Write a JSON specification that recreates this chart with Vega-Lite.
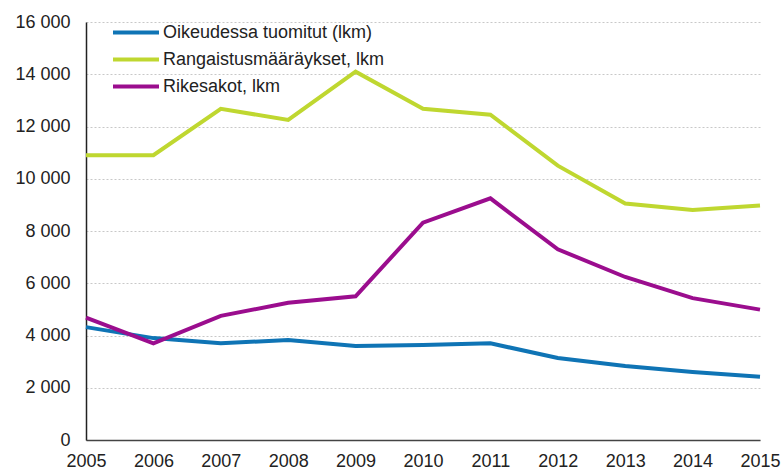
{
  "$schema": "https://vega.github.io/schema/vega-lite/v6.json",
  "width": 674,
  "height": 418,
  "autosize": {"type": "none"},
  "padding": {"left": 86, "top": 22, "right": 24, "bottom": 30},
  "background": "white",
  "config": {
    "font": "Liberation Sans",
    "view": {"stroke": null}
  },
  "data": {
    "values": [
      {"year": 2005, "series": "Oikeudessa tuomitut (lkm)", "value": 4320},
      {"year": 2006, "series": "Oikeudessa tuomitut (lkm)", "value": 3900},
      {"year": 2007, "series": "Oikeudessa tuomitut (lkm)", "value": 3700},
      {"year": 2008, "series": "Oikeudessa tuomitut (lkm)", "value": 3830},
      {"year": 2009, "series": "Oikeudessa tuomitut (lkm)", "value": 3600},
      {"year": 2010, "series": "Oikeudessa tuomitut (lkm)", "value": 3640},
      {"year": 2011, "series": "Oikeudessa tuomitut (lkm)", "value": 3700},
      {"year": 2012, "series": "Oikeudessa tuomitut (lkm)", "value": 3140},
      {"year": 2013, "series": "Oikeudessa tuomitut (lkm)", "value": 2830},
      {"year": 2014, "series": "Oikeudessa tuomitut (lkm)", "value": 2600},
      {"year": 2015, "series": "Oikeudessa tuomitut (lkm)", "value": 2420},
      {"year": 2005, "series": "Rangaistusmääräykset, lkm", "value": 10900},
      {"year": 2006, "series": "Rangaistusmääräykset, lkm", "value": 10900},
      {"year": 2007, "series": "Rangaistusmääräykset, lkm", "value": 12680},
      {"year": 2008, "series": "Rangaistusmääräykset, lkm", "value": 12250},
      {"year": 2009, "series": "Rangaistusmääräykset, lkm", "value": 14100},
      {"year": 2010, "series": "Rangaistusmääräykset, lkm", "value": 12680},
      {"year": 2011, "series": "Rangaistusmääräykset, lkm", "value": 12450},
      {"year": 2012, "series": "Rangaistusmääräykset, lkm", "value": 10500},
      {"year": 2013, "series": "Rangaistusmääräykset, lkm", "value": 9050},
      {"year": 2014, "series": "Rangaistusmääräykset, lkm", "value": 8800},
      {"year": 2015, "series": "Rangaistusmääräykset, lkm", "value": 8980},
      {"year": 2005, "series": "Rikesakot, lkm", "value": 4680},
      {"year": 2006, "series": "Rikesakot, lkm", "value": 3700},
      {"year": 2007, "series": "Rikesakot, lkm", "value": 4750},
      {"year": 2008, "series": "Rikesakot, lkm", "value": 5250},
      {"year": 2009, "series": "Rikesakot, lkm", "value": 5500},
      {"year": 2010, "series": "Rikesakot, lkm", "value": 8320},
      {"year": 2011, "series": "Rikesakot, lkm", "value": 9250},
      {"year": 2012, "series": "Rikesakot, lkm", "value": 7300},
      {"year": 2013, "series": "Rikesakot, lkm", "value": 6240},
      {"year": 2014, "series": "Rikesakot, lkm", "value": 5430},
      {"year": 2015, "series": "Rikesakot, lkm", "value": 4990}
    ]
  },
  "mark": {"type": "line", "strokeWidth": 4, "strokeJoin": "miter"},
  "encoding": {
    "x": {
      "field": "year",
      "type": "quantitative",
      "scale": {"domain": [2005, 2015], "nice": false, "zero": false},
      "axis": {
        "title": null,
        "values": [2005, 2006, 2007, 2008, 2009, 2010, 2011, 2012, 2013, 2014, 2015],
        "format": "d",
        "grid": false,
        "ticks": false,
        "labelFontSize": 18,
        "labelColor": "#222222",
        "labelPadding": 12,
        "labelFlush": false,
        "labelOverlap": false,
        "domainColor": "#444444",
        "domainWidth": 1.5
      }
    },
    "y": {
      "field": "value",
      "type": "quantitative",
      "scale": {"domain": [0, 16000], "nice": false},
      "axis": {
        "title": null,
        "values": [0, 2000, 4000, 6000, 8000, 10000, 12000, 14000, 16000],
        "labelExpr": "replace(format(datum.value, ','), ',', ' ')",
        "ticks": false,
        "labelFontSize": 18,
        "labelColor": "#222222",
        "labelPadding": 16,
        "domainColor": "#222222",
        "domainWidth": 1.5,
        "gridColor": "#c8c8c8",
        "gridDash": [2, 2],
        "gridWidth": 1
      }
    },
    "color": {
      "field": "series",
      "type": "nominal",
      "scale": {
        "domain": ["Oikeudessa tuomitut (lkm)", "Rangaistusmääräykset, lkm", "Rikesakot, lkm"],
        "range": ["#0f74b5", "#bfd730", "#9b0d8e"]
      },
      "legend": {
        "title": null,
        "orient": "none",
        "legendX": 25,
        "legendY": -3,
        "symbolType": "stroke",
        "symbolSize": 2116,
        "symbolStrokeWidth": 4,
        "clipHeight": 27,
        "labelFontSize": 18,
        "labelColor": "#222222",
        "labelLimit": 0,
        "labelOffset": 2,
        "rowPadding": 0,
        "symbolOffset": 0
      }
    }
  }
}
